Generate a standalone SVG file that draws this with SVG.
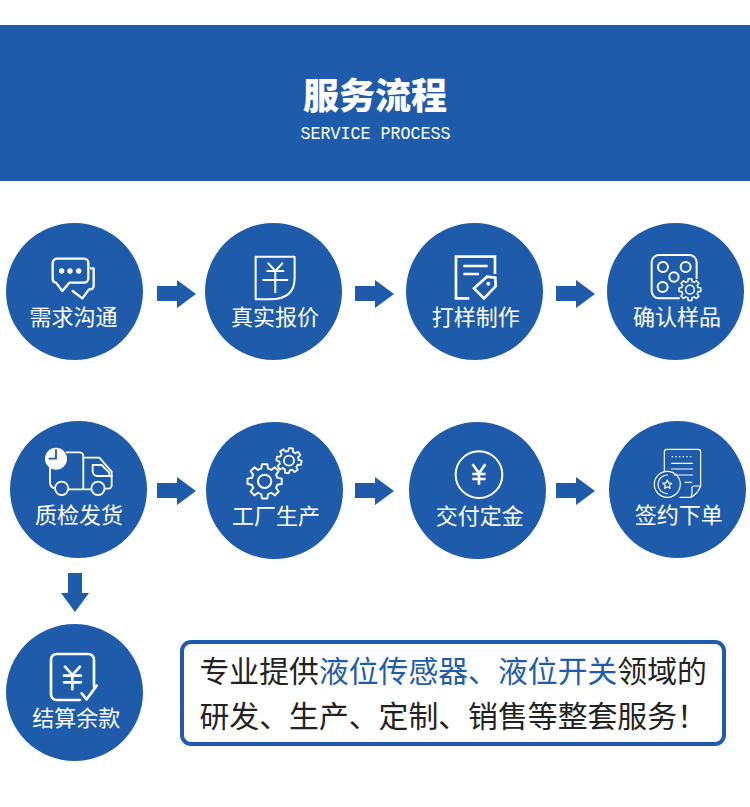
<svg xmlns="http://www.w3.org/2000/svg" xmlns:xlink="http://www.w3.org/1999/xlink" width="750" height="807" viewBox="0 0 750 807">
<style>
.cjk{font-family:"Noto Sans CJK SC","Noto Sans",sans-serif}
.c{fill:#1e5cab}
.lb{font-size:22px;fill:#fff;text-anchor:middle}
.i{fill:none;stroke:#fff;stroke-linecap:round;stroke-linejoin:round}
.tx{font-size:29.85px;fill:#222}
.bl{fill:#1e5cab}
</style>
<defs>
<path id="arrow" d="M0 6H20V0L39 14L20 28V21H0Z" fill="#1e5cab"/>
<path id="gear" d="M-.197-.734L-.156-.988L.156-.988L.197-.734A.76.76 0 0 1 .38-.658L.588-.809L.809-.588L.658-.38A.76.76 0 0 1 .734-.197L.988-.156L.988.156L.734.197A.76.76 0 0 1 .658.38L.809.588L.588.809L.38.658A.76.76 0 0 1 .197.734L.156.988L-.156.988L-.197.734A.76.76 0 0 1 -.38.658L-.588.809L-.809.588L-.658.38A.76.76 0 0 1 -.734.197L-.988.156L-.988-.156L-.734-.197A.76.76 0 0 1 -.658-.38L-.809-.588L-.588-.809L-.38-.658A.76.76 0 0 1 -.197-.734Z"/>
</defs>
<rect width="750" height="807" fill="#fff"/>
<g id="header">
<rect x="0" y="25" width="750" height="156" fill="#1e5cab"/>
<text x="375" y="108.500" text-anchor="middle" class="cjk" font-size="36" font-weight="900" fill="#fff">服务流程</text>
<text x="300.5" y="138.500" font-family="'Liberation Mono',monospace" font-size="19" fill="#fff" textLength="150" lengthAdjust="spacingAndGlyphs">SERVICE PROCESS</text>
</g>
<g id="connectors">
<use href="#arrow" xlink:href="#arrow" x="157" y="280"/>
<use href="#arrow" xlink:href="#arrow" x="355" y="280"/>
<use href="#arrow" xlink:href="#arrow" x="556" y="280"/>
<use href="#arrow" xlink:href="#arrow" x="157" y="477"/>
<use href="#arrow" xlink:href="#arrow" x="355" y="477"/>
<use href="#arrow" xlink:href="#arrow" x="556" y="477"/>
<path d="M68 573H82V593H89L75 612L61 593H68Z" fill="#1e5cab"/>
</g>
<g id="node-1">
<circle class="c" cx="74.500" cy="291.500" r="68.500"/>
<g class="i" transform="translate(0,210) scale(.3333)" stroke-width="7">
<path d="M172 146H252a13 13 0 0 1 13 13V205a13 13 0 0 1-13 13H208L187 243L168 218A12 12 0 0 1 158 206V159a13 13 0 0 1 14-13Z"/>
<path d="M272 175H281V228a10 10 0 0 1-10 10H267L247 265L218 243"/>
<circle cx="185" cy="183" r="8" fill="#fff" stroke="none"/><circle cx="210" cy="183" r="8" fill="#fff" stroke="none"/><circle cx="236" cy="183" r="8" fill="#fff" stroke="none"/>
</g>
<text class="cjk lb" x="73.500" y="325">需求沟通</text>
</g>
<g id="node-2">
<circle class="c" cx="273.500" cy="291.500" r="68.500"/>
<g class="i" transform="translate(0,210) scale(.3333)" stroke-width="6">
<path d="M767 140H884V205Q884 268 810 268H767Z"/>
<path d="M805 160L826 183L847 160M802 183H850M790 210H862M826 183V247"/>
</g>
<text class="cjk lb" x="275" y="325">真实报价</text>
</g>
<g id="node-3">
<circle class="c" cx="474.500" cy="291.500" r="68.500"/>
<g class="i" transform="translate(375,210) scale(.3333)" stroke-width="8" style="stroke-linecap:butt;stroke-linejoin:miter">
<path d="M360 192V140H243V265H283"/>
<path d="M265 168H338M265 192H312" stroke-width="7"/>
<path d="M336 200L361 203L362 229L327 265L297 235Z" stroke-width="8"/>
<circle cx="340" cy="221" r="6" fill="#fff" stroke="none"/>
</g>
<text class="cjk lb" x="475.700" y="325">打样制作</text>
</g>
<g id="node-4">
<circle class="c" cx="675.500" cy="291.500" r="68.500"/>
<g class="i" transform="translate(375,210) scale(.3333)" stroke-width="6">
<path d="M912 265H852a22 22 0 0 1-22-22V157a22 22 0 0 1 22-22H943a22 22 0 0 1 22 22V205"/>
<circle cx="864" cy="171" r="15"/><circle cx="932" cy="171" r="15"/><circle cx="897" cy="201" r="14"/><circle cx="863" cy="231" r="15"/>
<use href="#gear" xlink:href="#gear" transform="translate(945,239) scale(33)" stroke-width=".14"/>
<circle cx="945" cy="239" r="13" stroke-width="4.500"/>
</g>
<text class="cjk lb" x="677" y="325">确认样品</text>
</g>
<g id="node-5">
<circle class="c" cx="78.500" cy="489.500" r="68.500"/>
<g class="i" transform="translate(0,410) scale(.3333)" stroke-width="5.500">
<path d="M200 127H238a12 12 0 0 1 12 12V235"/>
<path d="M150 175V218a18 18 0 0 0 15 17M205 238H273"/>
<path d="M250 143H298L335 185V225a10 10 0 0 1-10 11H314"/>
<path d="M278 165H305L328 188V198H292a14 14 0 0 1-14-14ZM290 198H335"/>
<circle cx="185" cy="235" r="20"/><circle cx="294" cy="235" r="20"/>
<circle cx="168" cy="146" r="33" fill="#fff" stroke="none"/>
<path d="M168 118V146H146" style="stroke:#1e5cab;stroke-linecap:butt"/>
</g>
<text class="cjk lb" x="79" y="523">质检发货</text>
</g>
<g id="node-6">
<circle class="c" cx="274.500" cy="490.500" r="68.500"/>
<g class="i" transform="translate(0,410) scale(.3333)">
<use href="#gear" xlink:href="#gear" transform="translate(794,214) scale(52)" stroke-width=".11"/>
<circle cx="794" cy="214" r="20" stroke-width="6"/>
<use href="#gear" xlink:href="#gear" transform="translate(867,152) scale(38) rotate(10)" stroke-width=".14"/>
<circle cx="867" cy="152" r="15" stroke-width="5.500"/>
</g>
<text class="cjk lb" x="276" y="524">工厂生产</text>
</g>
<g id="node-7">
<circle class="c" cx="477.500" cy="490.500" r="68.500"/>
<g class="i" transform="translate(375,410) scale(.3333)" stroke-width="6">
<circle cx="312" cy="194" r="70"/>
<path d="M293 163L312 190L331 163M292 192H332M292 207H332M312 190V224" stroke-width="8" style="stroke-linecap:butt"/>
</g>
<text class="cjk lb" x="479.700" y="524">交付定金</text>
</g>
<g id="node-8">
<circle class="c" cx="677.500" cy="489.500" r="68.500"/>
<g class="i" transform="translate(375,410) scale(.3333)" stroke-width="3.500">
<path d="M868 185V126a8 8 0 0 1 8-8H969a8 8 0 0 1 8 8V228Q968 252 948 262H915"/>
<path d="M977 228H957a6 6 0 0 0-6 6V250Q951 258 948 262"/>
<path d="M890 140H955" stroke-dasharray="4 7" style="stroke-linecap:butt"/>
<path d="M890 160H953M890 177H953M898 195H953M930 217H950"/>
<circle cx="877" cy="223" r="39"/>
<path d="M877 195A28 28 0 0 0 877 251"/>
<polygon points="877,210 880.800,218.700 890.300,219.700 883.200,226 885.200,235.300 877,230.500 868.800,235.300 870.800,226 863.700,219.700 873.200,218.700"/>
</g>
<text class="cjk lb" x="678.700" y="523">签约下单</text>
</g>
<g id="node-9">
<circle class="c" cx="74.500" cy="692.500" r="68.500"/>
<g class="i" transform="translate(0,565) scale(.3333)" stroke-width="8">
<path d="M240 405H170a17 17 0 0 1-17-17V284a17 17 0 0 1 17-17H265a17 17 0 0 1 17 17V365"/>
<path d="M195 305L217 330L240 305M192 332H243M192 352H243M217 330V373"/>
<path d="M245 385L260 403L290 362"/>
</g>
<text class="cjk lb" x="76.300" y="726">结算余款</text>
</g>
<g id="note">
<rect x="182" y="642" width="542" height="102" rx="9" fill="#fff" stroke="#1e5cab" stroke-width="4"/>
<text class="cjk tx" x="199.500" y="682">专业提供<tspan class="bl">液位传感器、液位开关</tspan>领域的</text>
<text class="cjk tx" x="199.500" y="727">研发、生产、定制、销售等整套服务！</text>
</g>
</svg>
